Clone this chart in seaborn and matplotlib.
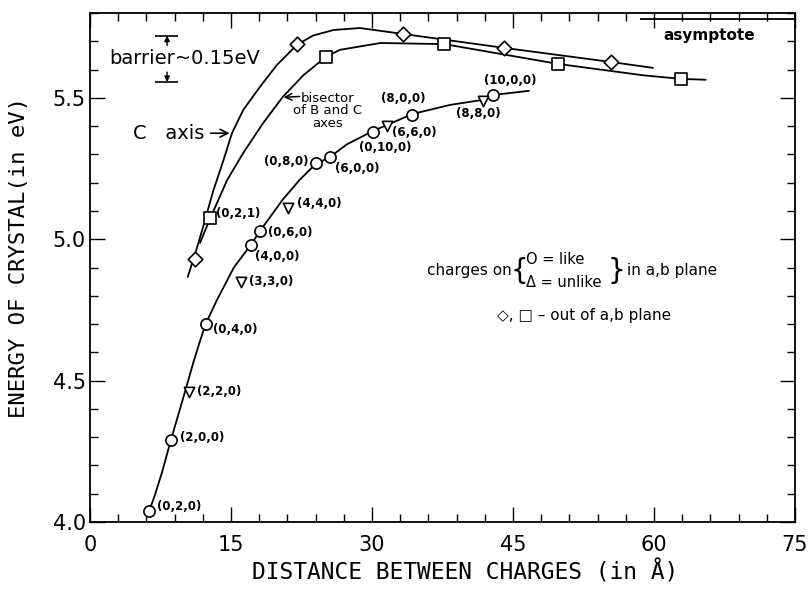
import seaborn as sns
import matplotlib.pyplot as plt
from matplotlib.ticker import MultipleLocator

# values: distance (Angstrom) vs energy (eV)
like_x = [6.3, 8.6, 12.3, 17.1, 18.1, 24.0, 25.5, 30.1, 34.3, 42.9]
like_y = [4.04, 4.29, 4.70, 4.98, 5.03, 5.27, 5.29, 5.38, 5.44, 5.51]
like_labels = ["(0,2,0)", "(2,0,0)", "(0,4,0)", "(4,0,0)", "(0,6,0)",
               "(0,8,0)", "(6,0,0)", "(0,10,0)", "(8,0,0)", "(10,0,0)"]

unlike_x = [10.5, 16.1, 21.1, 31.6, 41.8]
unlike_y = [4.46, 4.85, 5.11, 5.40, 5.49]
unlike_labels = ["(2,2,0)", "(3,3,0)", "(4,4,0)", "(6,6,0)", "(8,8,0)"]

c_axis_x = [11.2, 22.0, 33.3, 44.0, 55.4]
c_axis_y = [4.93, 5.69, 5.725, 5.677, 5.627]

bisector_x = [12.8, 25.1, 37.7, 49.8, 62.9]
bisector_y = [5.075, 5.645, 5.69, 5.62, 5.567]
bisector_labels = ["(0,2,1)"]

# hand drawn curves, traced point by point
like_curve_x = [6.2, 6.9, 7.7, 8.6, 9.4, 10.1, 11.0, 11.7, 12.3, 13.5, 15.3, 17.1,
                18.1, 20.5, 22.3, 24.0, 25.5, 27.3, 30.1, 31.6, 34.3, 38.3, 41.8, 42.9, 46.7]
like_curve_y = [4.03, 4.095, 4.18, 4.29, 4.38, 4.46, 4.565, 4.64, 4.70, 4.785, 4.90, 4.98,
                5.03, 5.14, 5.21, 5.266, 5.29, 5.335, 5.383, 5.404, 5.443, 5.475, 5.493, 5.51, 5.525]

c_axis_curve_x = [10.4, 11.2, 12.0, 13.1, 14.2, 15.1, 16.3, 18.1, 19.9, 22.0, 23.7,
                  25.9, 28.7, 33.3, 44.0, 55.4, 59.9]
c_axis_curve_y = [4.867, 4.95, 5.04, 5.17, 5.28, 5.375, 5.457, 5.54, 5.617, 5.687, 5.72,
                  5.74, 5.747, 5.726, 5.677, 5.627, 5.606]

bisector_curve_x = [11.7, 12.8, 14.6, 16.3, 18.4, 20.5, 22.7, 25.1, 26.6, 30.9, 37.7,
                    49.8, 58.8, 62.9, 65.5]
bisector_curve_y = [4.987, 5.075, 5.21, 5.305, 5.41, 5.503, 5.58, 5.645, 5.67, 5.694, 5.69,
                    5.62, 5.58, 5.567, 5.564]

asymptote_y = 5.778
barrier_top = 5.72
barrier_bottom = 5.556

# label offsets in pixels (dx, dy, ha)
like_offsets = [(8, 4, "left"), (9, 3, "left"), (7, -5, "left"), (4, -12, "left"),
                (8, -2, "left"), (-7, 1, "right"), (5, -11, "left"), (12, -16, "center"),
                (-9, 16, "center"), (17, 15, "center")]
unlike_offsets = [(8, 0, "left"), (8, 0, "left"), (9, 5, "left"), (5, -6, "left"),
                  (-5, -13, "center")]
bisector_offsets = [(6, 5, "left")]

sns.set_theme(style="ticks")
plt.rcParams['font.family'] = ['DejaVu Sans']
plt.rcParams.update({"text.color": "black", "axes.labelcolor": "black",
                     "xtick.color": "black", "ytick.color": "black",
                     "axes.edgecolor": "black"})

fig = plt.figure(figsize=(8.08, 6.03), dpi=100)
ax = fig.add_axes([0.1114, 0.1343, 0.8725, 0.8441])

line_kw = dict(color="black", linewidth=1.3, sort=False, estimator=None, ax=ax, legend=False)
sns.lineplot(x=like_curve_x, y=like_curve_y, **line_kw)
sns.lineplot(x=c_axis_curve_x, y=c_axis_curve_y, **line_kw)
sns.lineplot(x=bisector_curve_x, y=bisector_curve_y, **line_kw)

mark_kw = dict(color="white", edgecolor="black", linewidth=1.2, ax=ax, zorder=3, legend=False)
sns.scatterplot(x=like_x, y=like_y, marker="o", s=65, **mark_kw)
sns.scatterplot(x=unlike_x, y=unlike_y, marker="v", s=55, **mark_kw)
sns.scatterplot(x=c_axis_x, y=c_axis_y, marker="D", s=55, **mark_kw)
sns.scatterplot(x=bisector_x, y=bisector_y, marker="s", s=65, **mark_kw)

lab_kw = dict(textcoords="offset pixels", va="center", fontsize=8.5, fontweight="bold")
for xs, ys, labels, offs in [(like_x, like_y, like_labels, like_offsets),
                             (unlike_x, unlike_y, unlike_labels, unlike_offsets),
                             (bisector_x, bisector_y, bisector_labels, bisector_offsets)]:
    for x, y, lab, (dx, dy, ha) in zip(xs, ys, labels, offs):
        ax.annotate(lab, (x, y), xytext=(dx, dy), ha=ha, **lab_kw)

# barrier marker
ax.text(2.0, 5.64, "barrier~0.15eV", fontsize=14, va="center", ha="left")
ax.hlines([barrier_top, barrier_bottom], 6.9, 9.4, color="black", lw=1.2)
arr = dict(arrowstyle="-|>", color="black", lw=1.0, shrinkA=0, shrinkB=0, mutation_scale=8)
ax.annotate("", xy=(8.2, barrier_top), xytext=(8.2, barrier_top - 0.035), arrowprops=arr)
ax.annotate("", xy=(8.2, barrier_bottom), xytext=(8.2, barrier_bottom + 0.035), arrowprops=arr)

# curve names
ax.annotate("C   axis", xy=(15.0, 5.375), xytext=(4.6, 5.375), fontsize=14, va="center",
            ha="left", arrowprops=dict(arrowstyle="->", color="black", lw=1.2,
                                       relpos=(1, 0.5), shrinkA=2, shrinkB=1))
ax.annotate("", xy=(20.6, 5.502), xytext=(22.3, 5.505),
            arrowprops=dict(arrowstyle="->", color="black", lw=1.1, shrinkA=0, shrinkB=0))
ax.text(25.3, 5.455, "bisector\nof B and C\naxes", fontsize=9.5, ha="center", va="center",
        linespacing=0.95)

# asymptote
ax.hlines(asymptote_y, 58.5, 75, color="black", lw=1.3)
ax.text(61.0, 5.722, "asymptote", fontsize=11, fontweight="bold", va="center", ha="left")

# key
ax.text(35.9, 4.891, "charges on", fontsize=11, va="center", ha="left")
ax.text(44.7, 4.887, "{", fontsize=20, va="center", ha="left")
ax.text(46.4, 4.93, "O = like", fontsize=10.5, va="center", ha="left")
ax.text(46.4, 4.848, "\u0394 = unlike", fontsize=10.5, va="center", ha="left")
ax.text(55.1, 4.887, "}", fontsize=20, va="center", ha="left")
ax.text(57.1, 4.891, "in a,b plane", fontsize=11, va="center", ha="left")
ax.text(43.3, 4.732, "\u25C7, \u25A1 \u2013 out of a,b plane", fontsize=11, va="center", ha="left")

ax.set_xlim(0, 75)
ax.set_ylim(4.0, 5.8)
ax.set_xticks([0, 15, 30, 45, 60, 75])
ax.set_yticks([4.0, 4.5, 5.0, 5.5])
ax.set_yticklabels(["4.0", "4.5", "5.0", "5.5"])
ax.xaxis.set_minor_locator(MultipleLocator(3))
ax.yaxis.set_minor_locator(MultipleLocator(0.1))
ax.tick_params(which="both", direction="in", top=True, right=True, width=1.0, color="black")
ax.tick_params(which="major", length=11)
ax.tick_params(which="minor", length=5.5)
ax.tick_params(axis="x", which="major", pad=9, labelsize=15)
ax.tick_params(axis="y", which="major", pad=3, labelsize=15)
for sp in ax.spines.values():
    sp.set_linewidth(1.3)
    sp.set_color("black")

ax.set_xlabel("DISTANCE BETWEEN CHARGES (in \u00C5)", fontsize=16.5, family="DejaVu Sans Mono")
ax.set_ylabel("ENERGY OF CRYSTAL(in eV)", fontsize=16, family="DejaVu Sans Mono")
ax.xaxis.set_label_coords(0.532, -0.075)
ax.yaxis.set_label_coords(-0.086, 0.519)

plt.savefig("out.png", dpi=100)
